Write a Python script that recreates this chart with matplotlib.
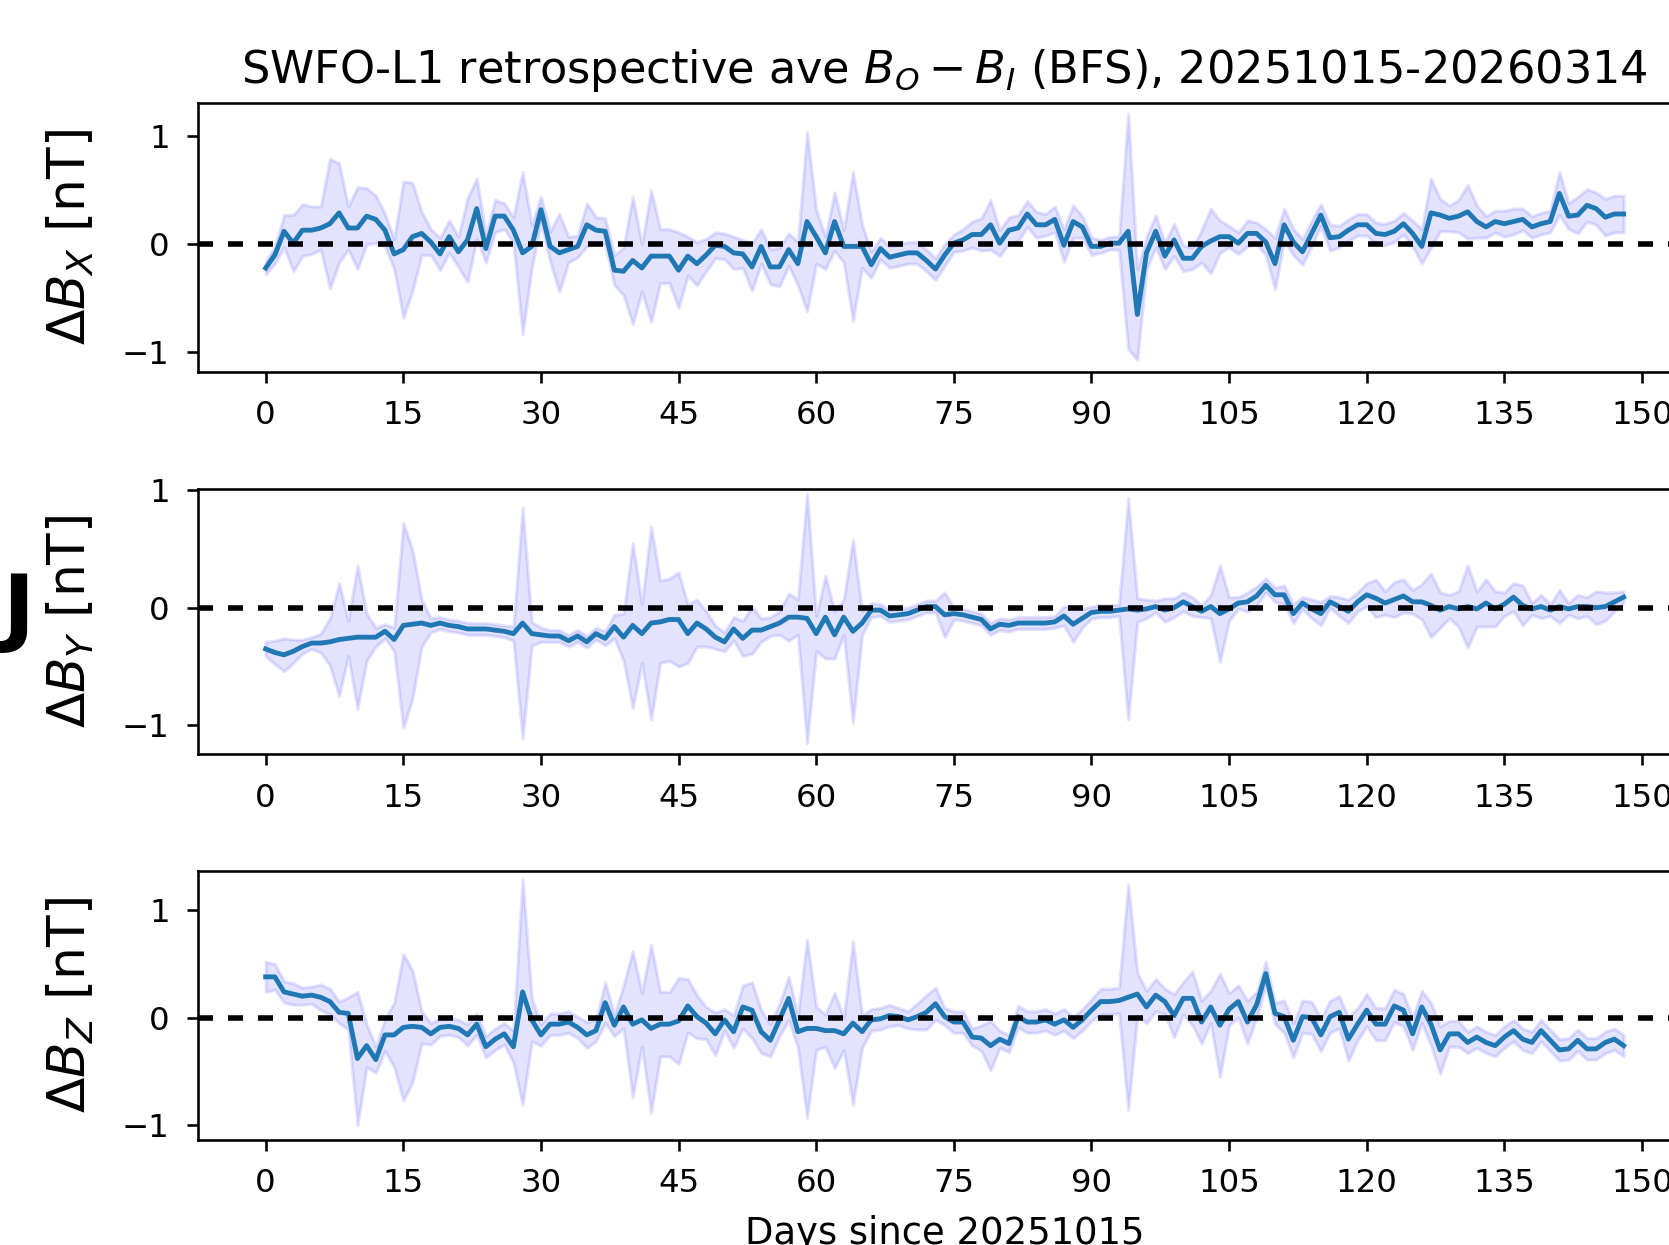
import matplotlib
matplotlib.use("Agg")
import matplotlib.pyplot as plt
import numpy as np

# days since 20251015
days = list(range(149))

bx_mean = [
    -0.22, -0.10, 0.12, 0.01, 0.13, 0.13, 0.15, 0.19, 0.29, 0.15,
    0.15, 0.26, 0.23, 0.13, -0.09, -0.05, 0.07, 0.10, 0.02, -0.09,
    0.07, -0.07, 0.04, 0.33, -0.04, 0.26, 0.26, 0.13, -0.08, -0.02,
    0.32, -0.02, -0.08, -0.05, -0.02, 0.18, 0.13, 0.12, -0.24, -0.25,
    -0.15, -0.22, -0.11, -0.11, -0.11, -0.24, -0.11, -0.18, -0.10, -0.01,
    -0.02, -0.08, -0.09, -0.21, -0.02, -0.21, -0.21, -0.05, -0.18, 0.21,
    0.07, -0.08, 0.21, -0.02, -0.02, -0.02, -0.19, -0.04, -0.12, -0.10,
    -0.08, -0.08, -0.15, -0.23, -0.10, 0.01, 0.04, 0.09, 0.09, 0.18,
    0.01, 0.13, 0.15, 0.28, 0.18, 0.18, 0.23, -0.01, 0.21, 0.16,
    -0.02, -0.02, 0.01, 0.01, 0.12, -0.65, -0.08, 0.12, -0.11, 0.04,
    -0.13, -0.13, -0.02, 0.03, 0.07, 0.07, 0.01, 0.10, 0.10, 0.02,
    -0.18, 0.18, 0.02, -0.07, 0.10, 0.27, 0.06, 0.07, 0.13, 0.18,
    0.18, 0.10, 0.09, 0.12, 0.19, 0.10, -0.02, 0.29, 0.27, 0.24,
    0.26, 0.30, 0.21, 0.16, 0.21, 0.19, 0.21, 0.23, 0.16, 0.19,
    0.21, 0.47, 0.26, 0.27, 0.36, 0.33, 0.25, 0.28, 0.28,
]
bx_std = [
    0.06, 0.08, 0.15, 0.26, 0.24, 0.22, 0.20, 0.60, 0.46, 0.20,
    0.38, 0.26, 0.22, 0.15, 0.14, 0.63, 0.50, 0.20, 0.12, 0.15,
    0.15, 0.14, 0.39, 0.28, 0.13, 0.15, 0.12, 0.12, 0.75, 0.20,
    0.12, 0.14, 0.36, 0.12, 0.10, 0.20, 0.12, 0.12, 0.14, 0.22,
    0.59, 0.22, 0.61, 0.25, 0.25, 0.35, 0.18, 0.20, 0.15, 0.12,
    0.12, 0.15, 0.13, 0.22, 0.16, 0.16, 0.18, 0.15, 0.20, 0.83,
    0.25, 0.15, 0.27, 0.15, 0.69, 0.20, 0.12, 0.10, 0.10, 0.10,
    0.10, 0.10, 0.10, 0.10, 0.10, 0.08, 0.10, 0.12, 0.15, 0.23,
    0.12, 0.12, 0.12, 0.12, 0.12, 0.10, 0.12, 0.15, 0.15, 0.10,
    0.08, 0.06, 0.06, 0.06, 1.09, 0.42, 0.15, 0.15, 0.12, 0.15,
    0.12, 0.10, 0.15, 0.30, 0.15, 0.10, 0.10, 0.12, 0.10, 0.12,
    0.24, 0.15, 0.12, 0.12, 0.12, 0.10, 0.12, 0.10, 0.10, 0.10,
    0.10, 0.10, 0.10, 0.10, 0.10, 0.12, 0.16, 0.32, 0.15, 0.12,
    0.15, 0.25, 0.15, 0.10, 0.10, 0.12, 0.12, 0.10, 0.10, 0.10,
    0.10, 0.20, 0.12, 0.17, 0.15, 0.15, 0.17, 0.17, 0.17,
]

by_mean = [
    -0.35, -0.38, -0.40, -0.37, -0.33, -0.30, -0.30, -0.29, -0.27, -0.26,
    -0.25, -0.25, -0.25, -0.20, -0.27, -0.15, -0.14, -0.13, -0.15, -0.13,
    -0.15, -0.16, -0.18, -0.18, -0.18, -0.19, -0.20, -0.22, -0.13, -0.22,
    -0.23, -0.24, -0.24, -0.28, -0.24, -0.29, -0.22, -0.26, -0.16, -0.25,
    -0.15, -0.22, -0.13, -0.12, -0.10, -0.10, -0.22, -0.13, -0.18, -0.25,
    -0.29, -0.18, -0.26, -0.19, -0.19, -0.16, -0.13, -0.08, -0.08, -0.09,
    -0.22, -0.08, -0.23, -0.08, -0.20, -0.13, -0.02, -0.02, -0.07, -0.06,
    -0.05, -0.02, 0.01, 0.01, -0.06, -0.05, -0.06, -0.08, -0.10, -0.18,
    -0.14, -0.15, -0.13, -0.13, -0.13, -0.13, -0.12, -0.07, -0.14, -0.09,
    -0.04, -0.03, -0.03, -0.02, -0.01, -0.02, -0.01, 0.01, -0.02, 0.00,
    0.05, 0.01, -0.03, 0.01, -0.05, -0.01, 0.04, 0.05, 0.10, 0.19,
    0.11, 0.11, -0.05, 0.04, -0.01, -0.05, 0.05, 0.01, -0.03, 0.05,
    0.11, 0.08, 0.04, 0.07, 0.10, 0.05, 0.05, 0.02, -0.02, 0.01,
    -0.01, 0.01, -0.01, 0.04, -0.01, 0.03, 0.09, 0.02, -0.01, 0.01,
    -0.02, 0.01, -0.01, 0.01, 0.01, 0.00, 0.01, 0.05, 0.09,
]
by_std = [
    0.06, 0.10, 0.14, 0.10, 0.06, 0.05, 0.08, 0.20, 0.48, 0.15,
    0.61, 0.20, 0.08, 0.06, 0.10, 0.87, 0.63, 0.20, 0.06, 0.05,
    0.05, 0.05, 0.05, 0.05, 0.05, 0.05, 0.05, 0.06, 0.98, 0.10,
    0.06, 0.05, 0.05, 0.05, 0.05, 0.05, 0.05, 0.06, 0.10, 0.20,
    0.70, 0.25, 0.82, 0.35, 0.35, 0.40, 0.25, 0.20, 0.15, 0.10,
    0.08, 0.10, 0.15, 0.20, 0.10, 0.08, 0.10, 0.20, 0.15, 1.06,
    0.15, 0.35, 0.20, 0.15, 0.78, 0.10, 0.06, 0.05, 0.05, 0.05,
    0.05, 0.05, 0.05, 0.05, 0.19, 0.05, 0.05, 0.05, 0.05, 0.05,
    0.05, 0.05, 0.05, 0.05, 0.05, 0.05, 0.05, 0.08, 0.15, 0.08,
    0.05, 0.05, 0.05, 0.05, 0.94, 0.10, 0.08, 0.05, 0.10, 0.08,
    0.08, 0.08, 0.05, 0.10, 0.41, 0.10, 0.05, 0.08, 0.08, 0.06,
    0.06, 0.08, 0.08, 0.05, 0.08, 0.10, 0.05, 0.08, 0.10, 0.08,
    0.10, 0.16, 0.10, 0.15, 0.14, 0.10, 0.15, 0.27, 0.15, 0.10,
    0.15, 0.35, 0.15, 0.20, 0.15, 0.10, 0.12, 0.17, 0.05, 0.10,
    0.05, 0.14, 0.05, 0.10, 0.08, 0.14, 0.12, 0.08, 0.05,
]

bz_mean = [
    0.38, 0.38, 0.24, 0.22, 0.20, 0.21, 0.19, 0.15, 0.05, 0.04,
    -0.38, -0.26, -0.39, -0.16, -0.16, -0.09, -0.08, -0.09, -0.15, -0.09,
    -0.08, -0.10, -0.16, -0.06, -0.27, -0.20, -0.15, -0.27, 0.24, -0.02,
    -0.16, -0.06, -0.06, -0.04, -0.09, -0.16, -0.12, 0.14, -0.07, 0.10,
    -0.06, -0.02, -0.10, -0.06, -0.06, -0.03, 0.11, 0.01, -0.05, -0.15,
    -0.02, -0.13, 0.10, 0.07, -0.13, -0.21, -0.02, 0.18, -0.13, -0.10,
    -0.10, -0.12, -0.12, -0.15, -0.05, -0.13, -0.02, -0.01, 0.02, 0.01,
    -0.02, 0.01, 0.05, 0.13, 0.01, -0.04, -0.04, -0.18, -0.19, -0.26,
    -0.20, -0.24, 0.01, -0.04, -0.04, -0.02, -0.06, -0.02, -0.09, -0.02,
    0.07, 0.15, 0.15, 0.16, 0.19, 0.22, 0.10, 0.21, 0.15, 0.02,
    0.18, 0.18, -0.04, 0.10, -0.07, 0.08, 0.15, -0.04, 0.12, 0.41,
    0.04, 0.01, -0.21, 0.01, 0.00, -0.16, 0.01, 0.05, -0.20, -0.06,
    0.07, -0.06, -0.06, 0.11, 0.07, -0.15, 0.10, -0.06, -0.30, -0.15,
    -0.15, -0.23, -0.18, -0.23, -0.26, -0.18, -0.12, -0.20, -0.23, -0.12,
    -0.21, -0.30, -0.29, -0.21, -0.29, -0.29, -0.23, -0.20, -0.26,
]
bz_std = [
    0.14, 0.12, 0.10, 0.10, 0.08, 0.08, 0.12, 0.12, 0.10, 0.15,
    0.62, 0.20, 0.12, 0.15, 0.30, 0.68, 0.52, 0.15, 0.10, 0.08,
    0.08, 0.08, 0.10, 0.10, 0.10, 0.10, 0.10, 0.15, 1.05, 0.20,
    0.10, 0.10, 0.10, 0.10, 0.10, 0.12, 0.10, 0.19, 0.10, 0.20,
    0.68, 0.25, 0.78, 0.30, 0.30, 0.40, 0.25, 0.20, 0.15, 0.20,
    0.10, 0.15, 0.20, 0.26, 0.20, 0.15, 0.15, 0.20, 0.15, 0.83,
    0.20, 0.15, 0.35, 0.15, 0.76, 0.15, 0.10, 0.10, 0.10, 0.08,
    0.08, 0.12, 0.16, 0.15, 0.08, 0.10, 0.10, 0.08, 0.12, 0.23,
    0.08, 0.08, 0.10, 0.10, 0.10, 0.10, 0.10, 0.10, 0.10, 0.10,
    0.10, 0.12, 0.12, 0.12, 1.05, 0.20, 0.15, 0.15, 0.12, 0.20,
    0.15, 0.25, 0.20, 0.15, 0.48, 0.15, 0.15, 0.20, 0.12, 0.11,
    0.10, 0.15, 0.16, 0.15, 0.15, 0.15, 0.15, 0.15, 0.20, 0.15,
    0.15, 0.15, 0.15, 0.15, 0.15, 0.15, 0.15, 0.20, 0.22, 0.12,
    0.12, 0.10, 0.10, 0.10, 0.10, 0.10, 0.10, 0.10, 0.10, 0.10,
    0.10, 0.10, 0.10, 0.10, 0.10, 0.10, 0.10, 0.10, 0.10,
]

ylabels = [r"$\Delta B_X$ [nT]", r"$\Delta B_Y$ [nT]", r"$\Delta B_Z$ [nT]"]
ylims = [(-1.185, 1.311), (-1.245, 1.008), (-1.138, 1.367)]
xticks = list(range(0, 151, 15))

S = 2.33  # scale of the original small figure
plt.rcParams.update({
    "font.size": 10 * S,
    "axes.linewidth": 0.8 * S,
    "xtick.major.size": 3.5 * S,
    "ytick.major.size": 3.5 * S,
    "xtick.major.width": 0.8 * S,
    "ytick.major.width": 0.8 * S,
    "xtick.major.pad": 3.5 * S + 4,
    "ytick.major.pad": 3.5 * S + 4,
    "xtick.labelsize": 10 * S,
    "ytick.labelsize": 10 * S,
})

fig = plt.figure(figsize=(16.69, 12.45), dpi=100)

# axes run past the right edge of the picture, as in the cropped reference
rects = [
    [0.1185, 0.7010, 0.895, 0.2166],
    [0.1185, 0.3941, 0.895, 0.2131],
    [0.1185, 0.0843, 0.895, 0.2163],
]

x = np.array(days)
series = [(bx_mean, bx_std), (by_mean, by_std), (bz_mean, bz_std)]
axes = []
for rect, (m, s), lab, yl in zip(rects, series, ylabels, ylims):
    ax = fig.add_axes(rect)
    m = np.array(m)
    s = np.array(s)
    ax.fill_between(x, m - s, m + s, color="blue", alpha=0.11, lw=1.0 * S)
    ax.plot(x, m, color="#1f77b4", lw=1.5 * S)
    ax.axhline(0, color="k", lw=4.0, dashes=(2.7, 2.7))
    ax.set_xlim(-7.4, 155.4)
    ax.set_ylim(*yl)
    ax.set_xticks(xticks)
    ax.set_yticks([-1, 0, 1])
    ax.set_ylabel(lab, fontsize=16 * S, labelpad=4 * S + 9)
    axes.append(ax)

axes[0].set_title(r"SWFO-L1 retrospective ave $B_O - B_I$ (BFS), 20251015-20260314",
                  fontsize=13.8 * S, pad=6 * S)
axes[2].set_xlabel("Days since 20251015", fontsize=11.4 * S, labelpad=4 * S + 2)

# stray glyph cut by the left edge of the picture
fig.text(0.021, 0.508, "J", fontsize=62, fontweight="bold", ha="right", va="center")

fig.savefig("out.png", dpi=100)
